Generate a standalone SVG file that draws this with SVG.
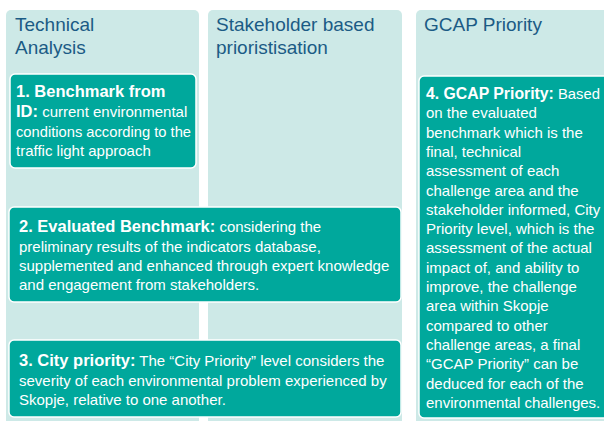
<svg xmlns="http://www.w3.org/2000/svg" width="604" height="421" viewBox="0 0 604 421">
<style>
.col{fill:#cde9e7}
.box{fill:#00a89c;stroke:#ffffff;stroke-width:1.5}
.hd{font-family:"Liberation Sans",Arial,sans-serif;font-size:19px;fill:#1b5b85}
.tx{font-family:"Liberation Sans",Arial,sans-serif;font-size:15px;fill:#ffffff}
.b{font-weight:bold;font-size:16.5px}
.b4{font-weight:bold;font-size:16px}
</style>
<rect width="604" height="421" fill="#ffffff"/>
<g id="col-technical">
<rect class="col" x="6" y="10" width="193" height="420" rx="5"/>
<text class="hd" x="15" y="31">Technical</text>
<text class="hd" x="15" y="54">Analysis</text>
</g>
<g id="col-stakeholder">
<rect class="col" x="208" y="10" width="194" height="420" rx="5"/>
<text class="hd" x="216" y="31">Stakeholder based</text>
<text class="hd" x="216" y="54">prioristisation</text>
</g>
<g id="col-gcap">
<rect class="col" x="416" y="10" width="200" height="420" rx="5"/>
<text class="hd" x="424" y="31">GCAP Priority</text>
</g>
<g id="connectors"></g>
<g id="box1">
<rect class="box" x="10" y="74" width="186" height="94" rx="5"/>
<text class="tx" x="16" y="97"><tspan class="b">1. Benchmark from</tspan></text>
<text class="tx" x="16" y="117"><tspan class="b">ID:</tspan> current environmental</text>
<text class="tx" x="16" y="137" textLength="175" lengthAdjust="spacingAndGlyphs">conditions according to the</text>
<text class="tx" x="16" y="156">traffic light approach</text>
</g>
<g id="box2">
<rect class="box" x="9" y="207" width="392" height="95" rx="5"/>
<text class="tx" x="19" y="232"><tspan class="b">2. Evaluated Benchmark:</tspan> considering the</text>
<text class="tx" x="19" y="252">preliminary results of the indicators database,</text>
<text class="tx" x="19" y="271">supplemented and enhanced through expert knowledge</text>
<text class="tx" x="19" y="290">and engagement from stakeholders.</text>
</g>
<g id="box3">
<rect class="box" x="9" y="340" width="392" height="77" rx="5"/>
<text class="tx" x="19" y="366"><tspan class="b">3. City priority:</tspan> The “City Priority” level considers the</text>
<text class="tx" x="19" y="386">severity of each environmental problem experienced by</text>
<text class="tx" x="19" y="405">Skopje, relative to one another.</text>
</g>
<g id="box4">
<rect class="box" x="419" y="76" width="192" height="342" rx="5"/>
<text class="tx" x="426" y="99" textLength="174" lengthAdjust="spacingAndGlyphs"><tspan class="b4">4. GCAP Priority:</tspan> Based</text>
<text class="tx" x="426" y="118.3">on the evaluated</text>
<text class="tx" x="426" y="137.6">benchmark which is the</text>
<text class="tx" x="426" y="156.9">final, technical</text>
<text class="tx" x="426" y="176.2">assessment of each</text>
<text class="tx" x="426" y="195.5">challenge area and the</text>
<text class="tx" x="426" y="214.8">stakeholder informed, City</text>
<text class="tx" x="426" y="234.1">Priority level, which is the</text>
<text class="tx" x="426" y="253.4">assessment of the actual</text>
<text class="tx" x="426" y="272.7">impact of, and ability to</text>
<text class="tx" x="426" y="292">improve, the challenge</text>
<text class="tx" x="426" y="311.3">area within Skopje</text>
<text class="tx" x="426" y="330.6">compared to other</text>
<text class="tx" x="426" y="349.9">challenge areas, a final</text>
<text class="tx" x="426" y="369.2">“GCAP Priority” can be</text>
<text class="tx" x="426" y="388.5">deduced for each of the</text>
<text class="tx" x="426" y="407.8">environmental challenges.</text>
</g>
</svg>
